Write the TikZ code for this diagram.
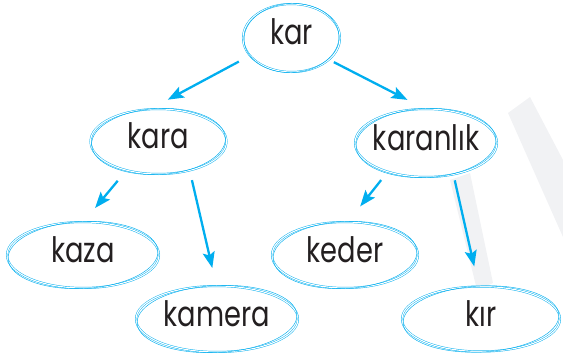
\documentclass[tikz,border=0pt]{standalone}
\usepackage{fontspec}
\setmainfont{Poppins}[FakeStretch=0.78]
\usetikzlibrary{shapes.geometric,arrows.meta}
\definecolor{sky}{RGB}{0,174,239}
\definecolor{ink}{RGB}{35,31,32}
\definecolor{markgray}{RGB}{241,242,244}
\tikzset{
  word/.style={ellipse,draw=sky,fill=white,line width=0.45pt,double=white,double distance=1.1pt,
    inner sep=0pt,inner xsep=-3pt,text=ink,font=\fontsize{35}{35}\selectfont,
    text height=27pt,text depth=13pt},
  ring/.style={draw=sky,line width=0.45pt},
  link/.style={draw=sky,line width=2.3pt,-{Stealth[length=16pt,width=12pt,inset=3pt]}}
}

\begin{document}
\begin{tikzpicture}[x=1pt,y=-1pt]
\useasboundingbox (0,0) rectangle (563,356);
% faint background mark
\fill[markgray] (508,113) -- (530,97) -- (563,160) -- (563,237) -- cycle;
\fill[markgray] (450,180) -- (470,173) -- (493,283) -- (477,290) -- cycle;

% words
\foreach \n/\t/\x/\y/\a/\b in {kar/kar/291.5/38/48.5/34, kara/kara/158.5/141.5/68/32.5,
  karanlik/karanlık/426/143/71/34, kaza/kaza/83/255/76/33, kamera/kamera/217/319/81/33,
  keder/keder/345/255/73/33, kir/kır/481/319/79/32.5}{
\node[word,minimum width=2*\a*1pt,minimum height=2*\b*1pt] (\n) at (\x,\y) {\t};
\draw[ring,rotate around={3:(\n.center)}] (\n.center) ellipse [x radius=\a-1,y radius=\b+0.5];
}

% arrows
\foreach \s/\p/\e/\q/\u/\v in {kar/203.4/kara/104.9/12.4/19.7, kar/330.7/karanlik/92.5/5.3/19.5,
  kara/222.5/kaza/89.3/13.6/17.9, kara/317/kamera/91/9.8/18.2,
  karanlik/217.4/keder/85.6/10.5/19.7, karanlik/311.6/kir/94.7/5.9/20.3}{
\draw[link,shorten <=\u pt,shorten >=\v pt] (\s.\p) -- (\e.\q);
}
\end{tikzpicture}
\end{document}
